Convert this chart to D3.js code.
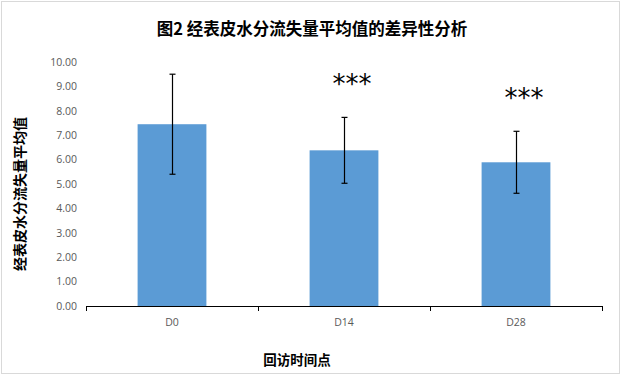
<!DOCTYPE html>
<html>
<head>
<meta charset="utf-8">
<script src="https://cdn.jsdelivr.net/npm/d3@7"></script>
<style>
  body { margin: 0; background: #fff; }
  svg { display: block; }
</style>
</head>
<body>
<svg id="chart" width="622" height="377"></svg>
<script>
var categories = [ "D0", "D14", "D28" ];
var means = [ 7.45, 6.38, 5.89 ];
var sds = [ 2.05, 1.35, 1.27 ];
var marks = [ "", "***", "***" ];
var yTicks = [ 0, 1, 2, 3, 4, 5, 6, 7, 8, 9, 10 ];

window.addEventListener( "load", makeChart );
function makeChart() {
    var svg = d3.select( "#chart" );
    var cjk = "'Noto Sans CJK SC', sans-serif";

    svg.append( "rect" ).attr( "x", 1.5 ).attr( "y", 1.5 )
        .attr( "width", 618 ).attr( "height", 372 )
        .attr( "fill", "#fff" ).attr( "stroke", "#d9d9d9" );

    var x = d3.scaleBand().domain( categories ).range( [86, 602] )
        .paddingInner( 0.6 ).paddingOuter( 0.3 );
    var y = d3.scaleLinear().domain( [0, 10] ).range( [306, 62] );

    // title
    svg.append( "text" ).attr( "x", 312 ).attr( "y", 35 )
        .attr( "text-anchor", "middle" ).attr( "font-family", cjk )
        .attr( "font-weight", "bold" ).attr( "font-size", 16.5 )
        .attr( "fill", "#000" ).text( "图2 经表皮水分流失量平均值的差异性分析" );

    // y axis labels (no line)
    var yAx = svg.append( "g" ).attr( "transform", "translate(86,0)" )
        .call( d3.axisLeft( y ).tickValues( yTicks ).tickSize( 0 ).tickPadding( 9 )
               .tickFormat( d3.format( ".2f" ) ) );
    yAx.select( ".domain" ).remove();
    yAx.selectAll( "text" ).attr( "font-family", "'Open Sans', sans-serif" )
        .attr( "font-size", 10.5 ).attr( "fill", "#595959" );

    // bars
    svg.selectAll( "rect.bar" ).data( categories ).enter()
        .append( "rect" ).attr( "class", "bar" )
        .attr( "x", d=>x(d) ).attr( "width", x.bandwidth() )
        .attr( "y", (d,i)=>y(means[i]) )
        .attr( "height", (d,i)=>y(0)-y(means[i]) )
        .attr( "fill", "#5b9bd5" );

    // error bars
    var eb = svg.append( "g" ).attr( "stroke", "#000" ).attr( "stroke-width", 1.2 );
    categories.forEach( function(c, i) {
        var cx = Math.round( x(c) + x.bandwidth()/2 ) + 0.5;
        var hi = y( means[i] + sds[i] ), lo = y( means[i] - sds[i] );
        eb.append( "line" ).attr( "x1", cx ).attr( "x2", cx ).attr( "y1", hi ).attr( "y2", lo );
        eb.append( "line" ).attr( "x1", cx-3 ).attr( "x2", cx+3 ).attr( "y1", hi ).attr( "y2", hi );
        eb.append( "line" ).attr( "x1", cx-3 ).attr( "x2", cx+3 ).attr( "y1", lo ).attr( "y2", lo );
    } );

    // significance marks
    svg.selectAll( "text.sig" ).data( categories ).enter()
        .append( "text" ).attr( "class", "sig" )
        .attr( "x", d=>x(d) + x.bandwidth()/2 + 8 )
        .attr( "y", (d,i)=>y( means[i] + sds[i] ) - 24 )
        .attr( "text-anchor", "middle" )
        .attr( "font-family", "'DejaVu Sans', sans-serif" )
        .attr( "font-size", 26 ).attr( "fill", "#000" )
        .text( (d,i)=>marks[i] );

    // x axis
    var xAx = svg.append( "g" ).attr( "transform", "translate(0,306)" )
        .call( d3.axisBottom( x ).tickSize( 0 ).tickPadding( 13 ) );
    xAx.select( ".domain" ).remove();
    xAx.selectAll( "text" ).attr( "font-family", "'Open Sans', sans-serif" )
        .attr( "font-size", 10.5 ).attr( "fill", "#595959" );
    var xl = svg.append( "g" ).attr( "stroke", "#000" );
    xl.append( "line" ).attr( "x1", 86 ).attr( "x2", 602 )
        .attr( "y1", 306.5 ).attr( "y2", 306.5 );
    var edges = [ 86 ].concat( categories.map( d=>x(d) + x.bandwidth() + x.step()*x.paddingInner()/2 ) );
    xl.selectAll( "line.tk" ).data( edges ).enter()
        .append( "line" ).attr( "class", "tk" )
        .attr( "x1", d=>Math.round(d)+0.5 ).attr( "x2", d=>Math.round(d)+0.5 )
        .attr( "y1", 306 ).attr( "y2", 311 );

    // axis titles
    svg.append( "text" ).attr( "x", 297 ).attr( "y", 365 )
        .attr( "text-anchor", "middle" ).attr( "font-family", cjk )
        .attr( "font-weight", "bold" ).attr( "font-size", 13.5 )
        .text( "回访时间点" );
    svg.append( "text" ).attr( "transform", "translate(25,194) rotate(-90)" )
        .attr( "text-anchor", "middle" ).attr( "font-family", cjk )
        .attr( "font-weight", "bold" ).attr( "font-size", 14 )
        .text( "经表皮水分流失量平均值" );
}
</script>
</body>
</html>
